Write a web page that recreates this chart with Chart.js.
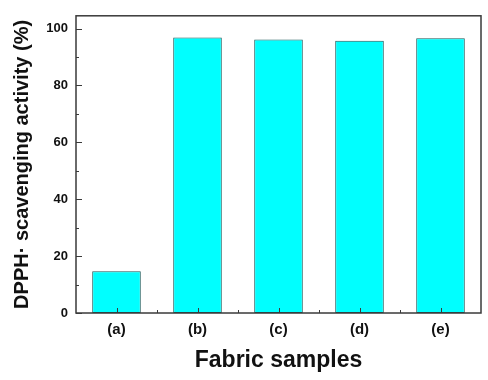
<!DOCTYPE html>
<html>
<head>
<meta charset="utf-8">
<script src="https://cdn.jsdelivr.net/npm/chart.js@4"></script>
<style>
  html, body { margin: 0; padding: 0; background: #fff; }
  #wrap { width: 488px; height: 380px; }
</style>
</head>
<body>
<div id="wrap"><canvas id="barChart" width="488" height="380"></canvas></div>
<script>
const samples = ["(a)", "(b)", "(c)", "(d)", "(e)"];
const scavenging = [14.7, 96.9, 96.2, 95.7, 96.6];
const yTicks = [0, 20, 40, 60, 80, 100];
const yMinorTicks = [10, 30, 50, 70, 90];

const fontFamily = "'Liberation Sans', Arial, sans-serif";
const frameColor = "#3a3a3a";

// frame round the plot + inward tick marks like the original
const framePlugin = {
    id: "frame",
    afterDraw(chart) {
        const ctx = chart.ctx;
        const area = chart.chartArea;
        const x = chart.scales.x;
        const y = chart.scales.y;
        ctx.save();
        ctx.strokeStyle = frameColor;
        ctx.lineWidth = 1.5;
        ctx.strokeRect(area.left, area.top, area.right - area.left, area.bottom - area.top);

        ctx.lineWidth = 1;
        ctx.beginPath();
        yTicks.forEach((v) => {
            const py = Math.round(y.getPixelForValue(v)) + 0.5;
            ctx.moveTo(area.left, py);
            ctx.lineTo(area.left + 6, py);
        });
        yMinorTicks.forEach((v) => {
            const py = Math.round(y.getPixelForValue(v)) + 0.5;
            ctx.moveTo(area.left, py);
            ctx.lineTo(area.left + 3, py);
        });
        samples.forEach((s, i) => {
            const px = Math.round(x.getPixelForValue(i)) + 0.5;
            ctx.moveTo(px, area.bottom);
            ctx.lineTo(px, area.bottom - 5);
            if (i > 0) {
                const mid = Math.round((x.getPixelForValue(i - 1) + x.getPixelForValue(i)) / 2) + 0.5;
                ctx.moveTo(mid, area.bottom);
                ctx.lineTo(mid, area.bottom - 3);
            }
        });
        ctx.stroke();
        ctx.restore();
    },
};

const ctx = document.getElementById("barChart").getContext("2d");
const barChart = new Chart(ctx, {
    type: "bar",
    data: {
        labels: samples,
        datasets: [
            {
                label: "DPPH scavenging activity",
                data: scavenging,
                backgroundColor: "#00ffff",
                borderColor: "#1d5a5a",
                borderWidth: 1,
                borderSkipped: false,
                categoryPercentage: 0.6,
                barPercentage: 1.0,
            },
        ],
    },
    options: {
        responsive: false,
        animation: false,
        layout: { padding: { top: 10, right: 7, left: 0, bottom: 0 } },
        plugins: {
            legend: { display: false },
            tooltip: { enabled: false },
        },
        scales: {
            x: {
                grid: { display: false, drawTicks: false },
                border: { display: false },
                ticks: {
                    color: "#111",
                    padding: 8,
                    font: { family: fontFamily, size: 15, weight: "bold" },
                },
                title: {
                    display: true,
                    text: "Fabric samples",
                    color: "#111",
                    padding: { top: 0, bottom: 6 },
                    font: { family: fontFamily, size: 23, weight: "bold" },
                },
                afterFit(scale) {
                    scale.height = 67;
                },
            },
            y: {
                min: 0,
                max: 104.5,
                grid: { display: false, drawTicks: false },
                border: { display: false },
                afterBuildTicks(scale) {
                    scale.ticks = yTicks.map((v) => ({ value: v }));
                },
                ticks: {
                    color: "#111",
                    padding: 8,
                    font: { family: fontFamily, size: 13, weight: "bold" },
                },
                title: {
                    display: true,
                    text: "DPPH\u00b7 scavenging activity (%)",
                    color: "#111",
                    padding: { top: 10, bottom: 0 },
                    font: { family: fontFamily, size: 20, weight: "bold" },
                },
                afterFit(scale) {
                    scale.width = 76;
                },
            },
        },
    },
    plugins: [framePlugin],
});
</script>
</body>
</html>
